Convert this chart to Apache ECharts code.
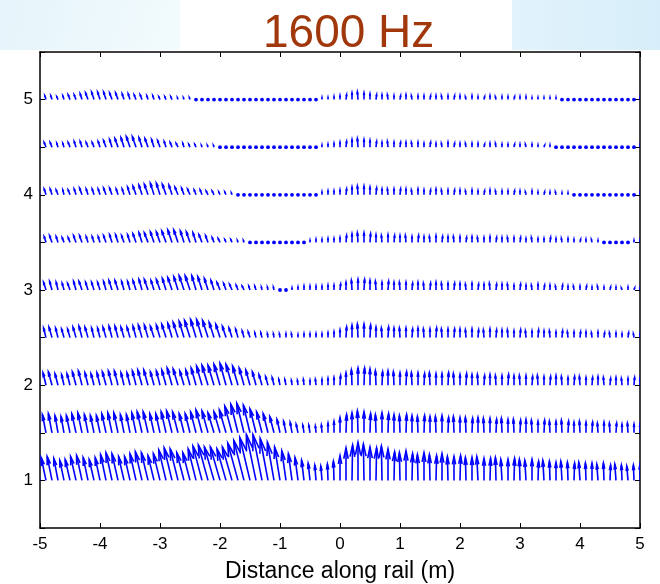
<!DOCTYPE html>
<html>
<head>
<meta charset="utf-8">
<script src="https://cdn.jsdelivr.net/npm/echarts@6/dist/echarts.min.js"></script>
<style>
  html, body { margin: 0; padding: 0; background: #fff; }
  #main { width: 660px; height: 584px; }
</style>
</head>
<body>
<div id="main"></div>
<script>
// rows (y positions of arrow bases) and sample positions along the rail (m)
var rowY = [1, 1.5, 2, 2.5, 3, 3.5, 4, 4.5, 5];
var xPos = [-5,-4.9,-4.8,-4.7,-4.6,-4.5,-4.4,-4.3,-4.2,-4.1,
  -4,-3.9,-3.8,-3.7,-3.6,-3.5,-3.4,-3.3,-3.2,-3.1,
  -3,-2.9,-2.8,-2.7,-2.6,-2.5,-2.4,-2.3,-2.2,-2.1,
  -2,-1.9,-1.8,-1.7,-1.6,-1.5,-1.4,-1.3,-1.2,-1.1,
  -1,-0.9,-0.8,-0.7,-0.6,-0.5,-0.4,-0.3,-0.2,-0.1,
  0,0.1,0.2,0.3,0.4,0.5,0.6,0.7,0.8,0.9,
  1,1.1,1.2,1.3,1.4,1.5,1.6,1.7,1.8,1.9,
  2,2.1,2.2,2.3,2.4,2.5,2.6,2.7,2.8,2.9,
  3,3.1,3.2,3.3,3.4,3.5,3.6,3.7,3.8,3.9,
  4,4.1,4.2,4.3,4.4,4.5,4.6,4.7,4.8,4.9,5];
var xTicks = [-5, -4, -3, -2, -1, 0, 1, 2, 3, 4, 5];
var yTicks = [1, 2, 3, 4, 5];

// arrow components, in hundredths (u: along rail, v: upward)
var vY1 = [22,24,25,23,21,22,25,26,24,22, 24,27,29,28,25,25,28,30,29,26,
  28,32,34,33,29,29,33,36,37,35, 35,33,35,39,42,45,48,48,44,40,
  35,31,28,24,21,18,16,15,17,20, 26,34,37,40,38,35,34,36,33,30,
  29,31,28,27,29,27,26,28,25,25, 26,24,24,25,23,23,24,22,22,23,
  22,21,22,20,21,20,19,20,19,18, 19,18,18,17,18,16,17,16,15,16,17];
var uY1 = [-7,-8,-8,-7,-7,-8,-9,-9,-8,-8, -8,-9,-10,-10,-9,-9,-10,-11,-11,-10,
  -11,-12,-13,-13,-12,-12,-13,-15,-16,-16, -16,-15,-16,-17,-17,-17,-16,-15,-13,-11,
  -9,-7,-6,-5,-4,-3,-2,-2,-1,-1, 0,0,1,0,-1,0,1,-1,0,1,
  -1,0,1,-1,0,-1,1,0,-1,0, 1,-1,0,-2,0,1,-1,-2,0,1,
  -1,-2,0,1,-2,-1,0,-2,-1,1, -2,-1,0,-2,-1,1,-2,-1,-2,-1,0];

var vY15 = [18,19,20,18,17,18,20,21,19,18, 18,20,21,21,19,19,21,22,22,20,
  20,22,23,22,20,20,22,24,23,21, 22,24,28,30,31,29,25,22,20,17,
  14,12,11,9,8,8,7,8,10,12, 16,19,21,23,22,20,19,21,20,19,
  18,19,18,17,18,17,17,18,16,17, 16,16,15,16,15,15,14,15,14,14,
  13,14,13,12,13,12,12,13,12,11, 12,11,11,10,11,10,10,9,10,9,9];
var uY15 = [-5,-6,-6,-5,-5,-6,-7,-7,-6,-6, -6,-7,-7,-7,-6,-6,-7,-8,-8,-7,
  -7,-8,-9,-9,-8,-8,-9,-10,-10,-10, -10,-11,-12,-12,-12,-11,-10,-9,-8,-7,
  -5,-4,-3,-3,-2,-2,-1,-1,0,0, 0,1,0,-1,0,1,-1,0,1,0,
  -1,1,0,-1,1,0,-1,0,1,-1, 0,-1,1,0,-1,0,1,-1,0,-1,
  1,0,-1,0,1,-1,0,-1,1,0, -1,0,1,-1,0,-1,1,0,-1,0,0];

var vY2 = [12,13,14,12,11,12,14,15,13,12, 13,14,15,15,13,13,15,16,16,14,
  15,16,18,17,15,16,18,20,21,21, 22,23,22,20,18,16,14,11,9,8,
  6,6,5,5,6,5,6,6,7,8, 10,13,16,18,18,17,15,14,15,14,
  13,14,13,13,12,13,12,12,13,12, 11,12,11,11,10,11,10,10,11,10,
  10,10,9,10,9,9,10,9,8,9, 9,8,8,9,8,7,8,7,7,8,7];
var uY2 = [-5,-5,-6,-5,-4,-5,-6,-6,-5,-5, -5,-6,-6,-6,-5,-5,-6,-7,-7,-6,
  -6,-7,-8,-8,-7,-7,-8,-9,-10,-10, -10,-10,-10,-9,-8,-7,-6,-5,-4,-3,
  -2,-2,-1,-1,-1,0,-1,0,0,0, 1,0,-1,0,1,0,-1,1,0,-1,
  0,1,-1,0,1,-1,0,0,1,-1, 0,1,0,-1,1,0,-1,0,1,0,
  -1,0,1,-1,0,1,0,-1,0,1, -1,0,1,0,-1,1,0,-1,0,1,0];

var vY25 = [9,10,11,10,9,9,11,12,11,10, 10,11,12,12,11,11,12,13,13,12,
  13,14,15,16,17,18,19,19,18,16, 14,12,10,9,7,6,5,5,4,4,
  4,4,4,3,4,4,4,4,5,6, 8,11,13,14,14,13,11,10,11,10,
  10,10,9,10,9,9,10,9,9,9, 9,8,9,8,8,9,8,8,8,7,
  8,7,7,8,7,7,6,7,6,6, 6,6,5,6,5,5,5,4,5,4,4];
var uY25 = [-4,-4,-5,-4,-4,-4,-5,-5,-5,-4, -4,-5,-5,-5,-5,-5,-5,-6,-6,-6,
  -6,-7,-7,-8,-8,-9,-9,-9,-9,-8, -7,-6,-5,-4,-3,-3,-2,-2,-1,-1,
  -1,0,-1,0,0,0,0,0,0,0, 0,1,0,-1,0,1,0,-1,1,0,
  -1,0,1,0,-1,0,1,-1,0,1, 0,-1,0,1,-1,0,1,0,-1,0,
  1,-1,0,1,0,-1,0,1,-1,0, 1,0,-1,0,1,-1,0,0,1,-1,0];

var vY3 = [7,8,9,8,7,7,9,9,8,8, 8,9,10,10,9,9,10,11,11,10,
  11,12,13,14,15,15,15,14,12,10, 8,7,6,5,4,4,4,3,3,3,
  1,0,2,3,4,4,4,4,5,5, 6,8,10,11,11,10,9,8,9,8,
  8,8,7,8,7,7,8,7,7,7, 7,6,7,6,6,7,6,6,6,5,
  6,5,5,6,5,5,4,5,4,4, 4,4,3,4,3,3,3,2,3,2,2];
var uY3 = [-3,-4,-4,-3,-3,-4,-4,-5,-4,-4, -4,-4,-5,-5,-4,-4,-5,-5,-6,-5,
  -6,-6,-7,-7,-8,-8,-7,-7,-6,-5, -5,-4,-4,-3,-3,-2,-2,-1,-1,-1,
  0,0,0,0,0,0,0,0,0,0, 1,0,-1,0,1,0,-1,0,1,0,
  -1,0,1,0,-1,1,0,-1,0,1, 0,-1,0,1,0,-1,1,0,-1,0,
  1,0,-1,0,1,0,-1,1,0,-1, 0,1,0,-1,0,1,0,-1,0,1,0];

var vY35 = [5,6,7,6,5,5,7,7,6,6, 6,7,8,8,7,8,9,10,10,11,
  11,12,13,13,12,11,10,8,7,5, 4,3,3,2,2,1,0,0,0,0,
  0,0,0,0,1,2,3,3,4,4, 5,7,9,10,10,9,8,7,8,7,
  7,7,6,7,6,6,7,6,6,6, 6,5,6,5,5,6,5,5,5,5,
  5,4,5,4,4,5,4,4,4,3, 3,3,3,2,1,0,0,0,1,2,2];
var uY35 = [-3,-3,-4,-3,-3,-3,-4,-4,-3,-3, -3,-4,-4,-4,-4,-4,-5,-5,-6,-6,
  -6,-7,-7,-7,-6,-6,-5,-5,-4,-3, -3,-2,-2,-1,-1,0,0,0,0,0,
  0,0,0,0,0,0,0,0,0,0, 0,1,0,-1,0,1,0,-1,0,1,
  0,-1,0,1,0,-1,0,1,0,-1, 0,1,0,-1,0,0,1,0,-1,0,
  1,0,-1,0,0,1,0,-1,0,0, 1,0,-1,0,0,0,0,0,0,0,0];

var vY4 = [5,6,6,5,5,5,6,7,6,6, 6,7,7,6,6,8,9,10,11,12,
  12,11,10,8,7,6,5,5,4,4, 3,3,2,1,0,0,0,0,0,0,
  0,0,0,0,0,0,1,3,4,4, 5,6,8,9,9,8,7,6,6,6,
  6,6,5,6,5,5,6,5,5,5, 5,4,5,4,4,5,4,4,4,4,
  4,3,4,3,3,3,3,2,2,1, 0,1,0,0,0,1,0,0,0,1,2];
var uY4 = [-3,-3,-3,-3,-2,-3,-3,-4,-3,-3, -3,-4,-4,-3,-3,-4,-5,-5,-6,-6,
  -6,-6,-5,-5,-4,-4,-3,-3,-3,-3, -2,-2,-1,-1,0,0,0,0,0,0,
  0,0,0,0,0,0,0,0,0,0, 0,1,0,-1,0,0,1,0,-1,0,
  1,0,-1,0,0,1,0,-1,0,1, 0,-1,0,0,1,0,-1,0,0,1,
  0,-1,0,0,1,0,-1,0,0,0, 0,0,0,0,0,0,0,0,0,0,0];

var vY45 = [4,5,5,4,4,5,6,6,5,5, 6,7,8,9,10,11,11,10,9,8,
  7,6,5,4,4,3,3,2,2,2, 1,0,0,0,0,0,0,0,0,0,
  0,0,0,0,0,0,1,2,3,4, 5,6,8,9,8,7,6,5,6,5,
  5,5,5,5,4,5,4,4,5,4, 4,4,4,4,3,4,4,3,3,3,
  3,3,3,2,2,2,1,1,0,0, 0,1,0,0,0,1,0,0,0,1,2];
var uY45 = [-2,-3,-3,-2,-2,-3,-3,-3,-3,-3, -3,-4,-4,-5,-5,-6,-6,-5,-5,-4,
  -4,-3,-3,-3,-2,-2,-2,-1,-1,-1, 0,0,0,0,0,0,0,0,0,0,
  0,0,0,0,0,0,0,0,0,0, 0,1,0,-1,0,0,1,0,-1,0,
  1,0,-1,0,0,1,0,-1,0,1, 0,-1,0,0,1,0,-1,0,0,1,
  0,-1,0,0,1,0,0,0,0,0, 0,0,0,0,0,0,0,0,0,0,0];

var vY5 = [3,4,4,3,4,5,5,6,7,8, 8,8,7,7,6,6,5,5,4,4,
  3,3,3,2,2,2,1,1,1,0, 0,0,0,0,0,0,0,0,0,0,
  0,0,0,0,0,0,1,2,2,3, 4,5,7,8,7,6,5,5,5,4,
  4,5,4,4,4,4,4,4,4,4, 4,3,4,3,3,4,3,3,3,3,
  3,3,2,2,2,2,2,1,1,0, 0,0,0,0,0,0,0,0,0,1,2];
var uY5 = [-2,-2,-2,-2,-2,-3,-3,-3,-4,-4, -4,-4,-4,-4,-3,-3,-3,-3,-2,-2,
  -2,-2,-2,-1,-1,-1,-1,0,0,0, 0,0,0,0,0,0,0,0,0,0,
  0,0,0,0,0,0,0,0,0,0, 0,1,0,-1,0,0,1,0,-1,0,
  1,0,-1,0,0,1,0,-1,0,1, 0,-1,0,0,1,0,-1,0,0,1,
  0,0,0,0,0,0,0,0,0,0, 0,0,0,0,0,0,0,0,0,0,0];

var uRows = [uY1, uY15, uY2, uY25, uY3, uY35, uY4, uY45, uY5];
var vRows = [vY1, vY15, vY2, vY25, vY3, vY35, vY4, vY45, vY5];

var quiver = [];
for (var r = 0; r < rowY.length; r++) {
  for (var i = 0; i < xPos.length; i++) {
    quiver.push([xPos[i], rowY[r], uRows[r][i] / 100, vRows[r][i] / 100]);
  }
}

var blue = '#0000ff';
var font = 'Liberation Sans, Arial, sans-serif';

// matlab-style quiver arrow: shaft plus open head, head built in data space
function drawArrow(params, api) {
  var x = api.value(0), y = api.value(1), u = api.value(2), v = api.value(3);
  var p0 = api.coord([x, y]);
  var p1 = api.coord([x + u, y + v]);
  var dx = p1[0] - p0[0], dy = p1[1] - p0[1];
  if (Math.sqrt(dx * dx + dy * dy) < 1.8) {
    return { type: 'circle', shape: { cx: p0[0], cy: p0[1], r: 1.9 }, style: { fill: blue } };
  }
  var a = 0.33, b = 0.33;
  var h1 = api.coord([x + u - a * (u + b * v), y + v - a * (v - b * u)]);
  var h2 = api.coord([x + u - a * (u - b * v), y + v - a * (v + b * u)]);
  return {
    type: 'group',
    children: [
      { type: 'line', shape: { x1: p0[0], y1: p0[1], x2: p1[0], y2: p1[1] },
        style: { stroke: blue, lineWidth: 1.6 } },
      { type: 'polyline', shape: { points: [h1, p1, h2] },
        style: { fill: null, stroke: blue, lineWidth: 1.6 } }
    ]
  };
}

var myChart = echarts.init(document.getElementById('main'));
var axisLine = { show: true, onZero: false, lineStyle: { color: '#000', width: 1.5 } };
var tickIn = { show: true, inside: true, length: 5, lineStyle: { color: '#000', width: 1 } };

var option = {
  animation: false,
  backgroundColor: '#fff',
  graphic: [
    { type: 'rect', left: 0, top: 0, shape: { width: 180, height: 50 },
      style: { fill: new echarts.graphic.LinearGradient(0, 0, 1, 1, [
        { offset: 0, color: '#e4f4fa' }, { offset: 1, color: '#f3fbfd' }]) }, z: -1 },
    { type: 'rect', left: 512, top: 0, shape: { width: 148, height: 50 },
      style: { fill: new echarts.graphic.LinearGradient(0, 0, 1, 0, [
        { offset: 0, color: '#e2f3fb' }, { offset: 1, color: '#d6eef9' }]) }, z: -1 }
  ],
  title: {
    text: '1600 Hz',
    left: 258,
    top: 6,
    textStyle: { fontSize: 46, fontWeight: 'normal', color: '#a0380c', fontFamily: font }
  },
  grid: { left: 40, right: 20, top: 52, bottom: 56, outerBoundsMode: 'none' },
  xAxis: [{
    type: 'value', min: -5, max: 5, interval: 1, position: 'bottom',
    axisLine: axisLine, axisTick: tickIn, splitLine: { show: false },
    axisLabel: { color: '#000', fontSize: 17, margin: 8, fontFamily: font,
      customValues: xTicks },
    name: 'Distance along rail (m)', nameLocation: 'middle', nameGap: 32,
    nameTextStyle: { color: '#000', fontSize: 23, fontFamily: font }
  }, {
    type: 'value', min: -5, max: 5, interval: 1, position: 'top',
    axisLine: axisLine, axisTick: tickIn, splitLine: { show: false },
    axisLabel: { show: false }
  }],
  yAxis: [{
    type: 'value', min: 0.5, max: 5.5, interval: 0.5, position: 'left',
    axisLine: axisLine, axisTick: tickIn, splitLine: { show: false },
    axisLabel: { color: '#000', fontSize: 17, margin: 7, fontFamily: font,
      formatter: function (val) { return yTicks.indexOf(val) >= 0 ? String(val) : ''; } }
  }, {
    type: 'value', min: 0.5, max: 5.5, interval: 0.5, position: 'right',
    axisLine: axisLine, axisTick: tickIn, splitLine: { show: false },
    axisLabel: { show: false }
  }],
  series: [{
    type: 'custom',
    clip: true,
    renderItem: drawArrow,
    encode: { x: 0, y: 1 },
    data: quiver
  }]
};
myChart.setOption(option);
</script>
</body>
</html>
